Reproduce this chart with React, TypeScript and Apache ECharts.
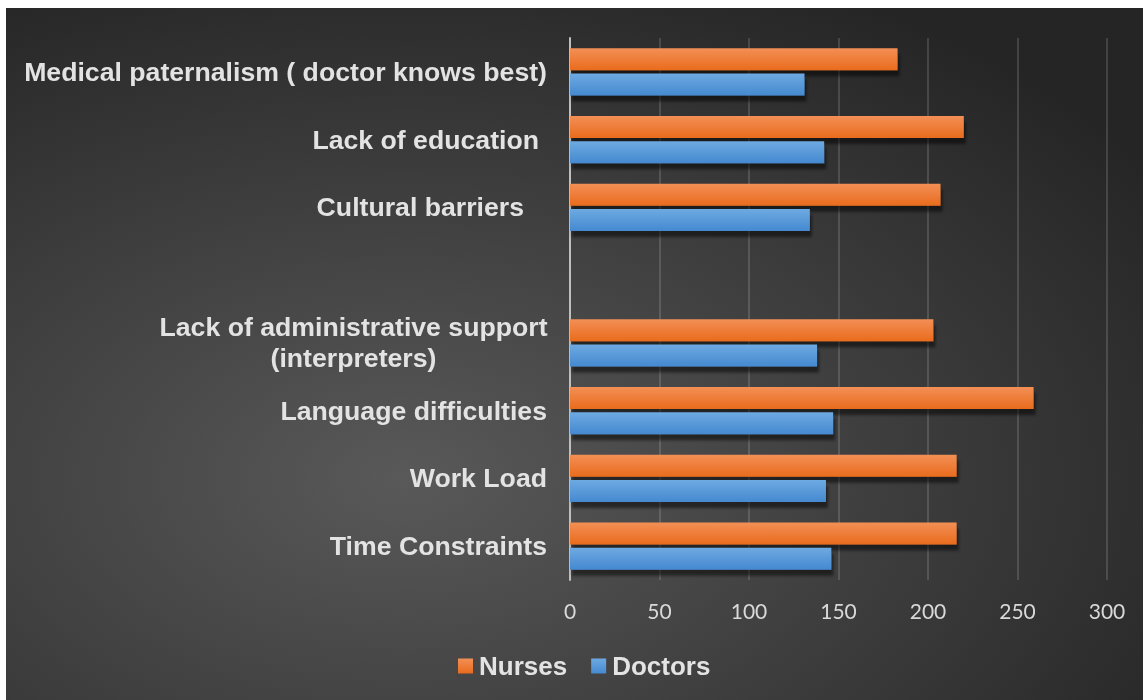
import React, { useEffect, useRef } from "react";
import * as echarts from "echarts";

const categories = [
  "Time Constraints",
  "Work Load",
  "Language difficulties",
  "Lack of administrative support (interpreters)",
  "",
  "Cultural barriers",
  "Lack of education",
  "Medical paternalism ( doctor knows best)",
];
const nurses: (number | null)[] = [216, 216, 259, 203, null, 207, 220, 183];
const doctors: (number | null)[] = [146, 143, 147, 138, null, 134, 142, 131];
const xTicks = { min: 0, max: 300, interval: 50 };

const FONT = "'Liberation Sans', Arial, sans-serif";
const LABEL = { fontFamily: FONT, fontWeight: "bold" as const, fontSize: 26.67, color: "#e3e3e3" };

export default function App() {
  const ref = useRef<HTMLDivElement>(null);
  useEffect(() => {
    if (!ref.current) return;
    const chart = echarts.init(ref.current, undefined, { renderer: "svg" });
    const grad = (a: string, b: string) =>
      new echarts.graphic.LinearGradient(0, 0, 0, 1, [
        { offset: 0, color: a },
        { offset: 1, color: b },
      ]);
    const shadow = {
      shadowColor: "rgba(0,0,0,0.5)",
      shadowBlur: 3,
      shadowOffsetX: 2,
      shadowOffsetY: 6,
    };
    chart.setOption({
      animation: false,
      backgroundColor: new echarts.graphic.RadialGradient(0.35, 0.68, 0.8, [
        { offset: 0, color: "#595959" },
        { offset: 1, color: "#252525" },
      ]),
      grid: { left: 564, right: 36, top: 30, bottom: 120 },
      legend: {
        data: ["Nurses", "Doctors"],
        bottom: 16,
        left: 447,
        icon: "rect",
        itemWidth: 15,
        itemHeight: 15,
        itemGap: 24,
        textStyle: { ...LABEL, fontSize: 26, padding: [0, 0, 0, 1] },
      },
      xAxis: {
        type: "value",
        ...xTicks,
        axisLine: { show: false },
        axisTick: { show: false },
        axisLabel: { color: "#d9d9d9", fontFamily: "Lato, 'Open Sans', sans-serif", fontSize: 21, margin: 20 },
        splitLine: { lineStyle: { color: "rgba(255,255,255,0.14)", width: 2 } },
      },
      yAxis: {
        type: "category",
        data: categories,
        axisLine: { lineStyle: { color: "#bfbfbf", width: 2 } },
        axisTick: { show: false },
        axisLabel: {
          ...LABEL,
          margin: 23,
          formatter: (v: string) => {
            if (v === "Lack of administrative support (interpreters)")
              return "{adm|Lack of administrative support}\n{adm|(interpreters)}";
            if (v === "Cultural barriers") return "{cb|" + v + "}";
            if (v === "Lack of education") return "{le|" + v + "}";
            return v;
          },
          rich: {
            adm: { ...LABEL, width: 387, align: "center", lineHeight: 31 },
            cb: { ...LABEL, padding: [0, 23, 0, 0] },
            le: { ...LABEL, padding: [0, 8, 0, 0] },
          },
        },
      },
      series: [
        {
          name: "Nurses",
          type: "bar",
          data: nurses,
          barWidth: 22,
          barGap: "14%",
          itemStyle: { color: grad("#f38f55", "#e96b1d"), ...shadow },
        },
        {
          name: "Doctors",
          type: "bar",
          data: doctors,
          barWidth: 22,
          barGap: "14%",
          itemStyle: { color: grad("#6eaae2", "#4589d0"), ...shadow },
        },
      ],
    });
    return () => chart.dispose();
  }, []);
  return (
    <div
      ref={ref}
      style={{ position: "fixed", left: 6, top: 8, width: 1137, height: 692 }}
    />
  );
}
